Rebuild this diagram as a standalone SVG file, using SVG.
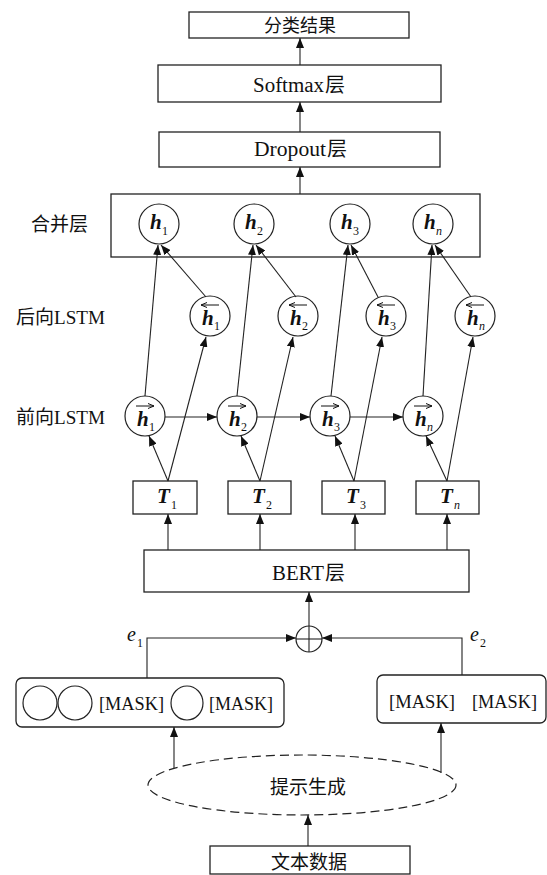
<svg xmlns="http://www.w3.org/2000/svg" width="547" height="875" viewBox="0 0 547 875">
  <defs>
    <marker id="ah" viewBox="0 0 10 8" refX="10" refY="4" markerWidth="10" markerHeight="8" orient="auto" markerUnits="userSpaceOnUse">
      <path d="M0,0 L10,4 L0,8 z" fill="#111"/>
    </marker>
    <marker id="acc" viewBox="0 0 6 6" refX="6" refY="3" markerWidth="6" markerHeight="6" orient="auto" markerUnits="userSpaceOnUse">
      <path d="M0,0.5 L6,3 L0,5.5" fill="none" stroke="#111" stroke-width="1"/>
    </marker>
  </defs>
  <style>
    .box { fill: #fff; stroke: #222; stroke-width: 1.3; }
    .node { fill: #fff; stroke: #222; stroke-width: 1.2; }
    .ln { fill: none; stroke: #222; stroke-width: 1.1; }
    .arr { fill: none; stroke: #222; stroke-width: 1.1; marker-end: url(#ah); }
    .acc { fill: none; stroke: #111; stroke-width: 1; marker-end: url(#acc); }
    text { fill: #111; }
    .c { text-anchor: middle; }
    .lat { font-family: "Liberation Serif", "Times New Roman", Tinos, "DejaVu Serif", serif; }
    .cjk { font-family: "Noto Sans CJK SC", "Noto Sans CJK JP", sans-serif; }
    .h { font-family: "Liberation Serif", "Times New Roman", "DejaVu Serif", serif; font-weight: bold; font-style: italic; font-size: 21px; }
    .sub { font-family: "Liberation Serif", "Times New Roman", "DejaVu Serif", serif; font-size: 12px; }
    .subi { font-family: "Liberation Serif", "Times New Roman", "DejaVu Serif", serif; font-style: italic; font-size: 12px; }
    .mask { font-family: "Liberation Serif", "Times New Roman", "DejaVu Serif", serif; font-size: 19px; }
  </style>

  <!-- output stack -->
  <g id="result">
    <rect class="box" x="189" y="12" width="220" height="26"/>
    <text class="cjk c" x="300" y="32" font-size="18">分类结果</text>
  </g>
  <g id="softmax">
    <rect class="box" x="158" y="65" width="283" height="37"/>
    <text class="lat" x="253" y="92" font-size="20" textLength="71" lengthAdjust="spacingAndGlyphs">Softmax</text>
    <text class="cjk" x="325" y="92" font-size="20">层</text>
  </g>
  <g id="dropout">
    <rect class="box" x="159" y="132" width="281" height="35"/>
    <text class="lat" x="254" y="156" font-size="20" textLength="72" lengthAdjust="spacingAndGlyphs">Dropout</text>
    <text class="cjk" x="327" y="156" font-size="20">层</text>
  </g>

  <!-- merge layer -->
  <g id="merge">
    <rect class="box" x="111" y="194" width="369" height="63"/>
    <text class="cjk" x="31" y="231" font-size="19">合并层</text>
  </g>
  <g id="m1">
    <circle class="node" cx="159" cy="224" r="20"/>
    <text class="h" x="150" y="229">h</text><text class="sub" x="162" y="235">1</text>
  </g>
  <g id="m2">
    <circle class="node" cx="254" cy="224" r="20"/>
    <text class="h" x="245" y="229">h</text><text class="sub" x="257" y="235">2</text>
  </g>
  <g id="m3">
    <circle class="node" cx="350" cy="224" r="20"/>
    <text class="h" x="341" y="229">h</text><text class="sub" x="353" y="235">3</text>
  </g>
  <g id="mn">
    <circle class="node" cx="433" cy="224" r="20"/>
    <text class="h" x="424" y="229">h</text><text class="subi" x="436" y="235">n</text>
  </g>

  <!-- backward LSTM -->
  <g id="bw-label">
    <text class="cjk" x="16" y="324" font-size="19">后向</text>
    <text class="lat" x="54" y="324" font-size="19" textLength="51" lengthAdjust="spacingAndGlyphs">LSTM</text>
  </g>
  <g id="b1">
    <circle class="node" cx="210" cy="316" r="20"/>
    <line class="acc" x1="219" y1="305" x2="201" y2="305"/>
    <text class="h" x="202" y="325">h</text><text class="sub" x="214" y="330">1</text>
  </g>
  <g id="b2">
    <circle class="node" cx="298" cy="316" r="20"/>
    <line class="acc" x1="307" y1="305" x2="289" y2="305"/>
    <text class="h" x="290" y="325">h</text><text class="sub" x="302" y="330">2</text>
  </g>
  <g id="b3">
    <circle class="node" cx="386" cy="316" r="20"/>
    <line class="acc" x1="395" y1="305" x2="377" y2="305"/>
    <text class="h" x="378" y="325">h</text><text class="sub" x="390" y="330">3</text>
  </g>
  <g id="bn">
    <circle class="node" cx="475" cy="316" r="20"/>
    <line class="acc" x1="484" y1="305" x2="466" y2="305"/>
    <text class="h" x="467" y="325">h</text><text class="subi" x="479" y="330">n</text>
  </g>

  <!-- forward LSTM -->
  <g id="fw-label">
    <text class="cjk" x="16" y="424" font-size="19">前向</text>
    <text class="lat" x="54" y="424" font-size="19" textLength="51" lengthAdjust="spacingAndGlyphs">LSTM</text>
  </g>
  <g id="f1">
    <circle class="node" cx="145" cy="416" r="20"/>
    <line class="acc" x1="136" y1="406" x2="154" y2="406"/>
    <text class="h" x="137" y="426">h</text><text class="sub" x="149" y="431">1</text>
  </g>
  <g id="f2">
    <circle class="node" cx="237" cy="416" r="20"/>
    <line class="acc" x1="228" y1="406" x2="246" y2="406"/>
    <text class="h" x="229" y="426">h</text><text class="sub" x="241" y="431">2</text>
  </g>
  <g id="f3">
    <circle class="node" cx="330" cy="416" r="20"/>
    <line class="acc" x1="321" y1="406" x2="339" y2="406"/>
    <text class="h" x="322" y="426">h</text><text class="sub" x="334" y="431">3</text>
  </g>
  <g id="fn">
    <circle class="node" cx="423" cy="416" r="20"/>
    <line class="acc" x1="414" y1="406" x2="432" y2="406"/>
    <text class="h" x="415" y="426">h</text><text class="subi" x="427" y="431">n</text>
  </g>

  <!-- token vectors -->
  <g id="t1">
    <rect class="box" x="133" y="481" width="64" height="33"/>
    <text class="h" x="157" y="503" font-size="20">T</text><text class="sub" x="171" y="509">1</text>
  </g>
  <g id="t2">
    <rect class="box" x="228" y="481" width="63" height="33"/>
    <text class="h" x="252" y="503" font-size="20">T</text><text class="sub" x="266" y="509">2</text>
  </g>
  <g id="t3">
    <rect class="box" x="322" y="481" width="63" height="33"/>
    <text class="h" x="346" y="503" font-size="20">T</text><text class="sub" x="360" y="509">3</text>
  </g>
  <g id="tn">
    <rect class="box" x="416" y="481" width="63" height="33"/>
    <text class="h" x="440" y="503" font-size="20">T</text><text class="subi" x="454" y="509">n</text>
  </g>

  <!-- BERT -->
  <g id="bert">
    <rect class="box" x="144" y="550" width="325" height="42"/>
    <text class="lat" x="272" y="580" font-size="20" textLength="52" lengthAdjust="spacingAndGlyphs">BERT</text>
    <text class="cjk" x="325" y="580" font-size="20">层</text>
  </g>

  <!-- embedding sum -->
  <g id="sum">
    <circle class="node" cx="309" cy="639" r="13"/>
    <line class="ln" x1="309" y1="626" x2="309" y2="652"/>
    <line class="ln" x1="296" y1="639" x2="322" y2="639"/>
  </g>
  <g id="e1-label">
    <text class="lat" x="127" y="641" font-size="20" font-style="italic">e</text>
    <text class="sub" x="137" y="647">1</text>
  </g>
  <g id="e2-label">
    <text class="lat" x="470" y="641" font-size="20" font-style="italic">e</text>
    <text class="sub" x="480" y="647">2</text>
  </g>

  <!-- prompt templates -->
  <g id="template1">
    <rect class="box" x="16" y="678" width="268" height="49" rx="6"/>
    <ellipse class="node" cx="40" cy="703" rx="17" ry="17"/>
    <ellipse class="node" cx="75" cy="703" rx="17" ry="17"/>
    <text class="mask" x="99" y="710" textLength="65" lengthAdjust="spacingAndGlyphs">[MASK]</text>
    <ellipse class="node" cx="187" cy="703" rx="16" ry="17"/>
    <text class="mask" x="209" y="710" textLength="64" lengthAdjust="spacingAndGlyphs">[MASK]</text>
  </g>
  <g id="template2">
    <rect class="box" x="377" y="675" width="169" height="48" rx="6"/>
    <text class="mask" x="389" y="708" textLength="66" lengthAdjust="spacingAndGlyphs">[MASK]</text>
    <text class="mask" x="472" y="708" textLength="65" lengthAdjust="spacingAndGlyphs">[MASK]</text>
  </g>

  <!-- prompt generation -->
  <g id="prompt">
    <ellipse cx="302" cy="785" rx="154" ry="30" fill="#fff" stroke="#222" stroke-width="1.2" stroke-dasharray="9,5"/>
    <text class="cjk c" x="308" y="794" font-size="19">提示生成</text>
  </g>

  <!-- input text -->
  <g id="text-data">
    <rect class="box" x="210" y="846" width="200" height="28"/>
    <text class="cjk c" x="309" y="869" font-size="19">文本数据</text>
  </g>

  <!-- connectors, drawn over the node fills so arrowheads stay visible -->
  <g id="connectors">
    <!-- top stack -->
    <line class="arr" x1="300" y1="65" x2="300" y2="38"/>
    <line class="arr" x1="300" y1="132" x2="300" y2="102"/>
    <line class="arr" x1="300" y1="194" x2="300" y2="167"/>
    <!-- forward states to merged states -->
    <line class="arr" x1="145" y1="396" x2="158" y2="245"/>
    <line class="arr" x1="237" y1="396" x2="253" y2="245"/>
    <line class="arr" x1="331" y1="396" x2="348" y2="245"/>
    <line class="arr" x1="423" y1="396" x2="432" y2="245"/>
    <!-- backward states to merged states -->
    <line class="arr" x1="206" y1="297" x2="161" y2="245"/>
    <line class="arr" x1="296" y1="297" x2="256" y2="245"/>
    <line class="arr" x1="378" y1="297" x2="351" y2="245"/>
    <line class="arr" x1="471" y1="297" x2="435" y2="245"/>
    <!-- token vectors to backward states -->
    <line class="arr" x1="168" y1="481" x2="206" y2="337"/>
    <line class="arr" x1="260" y1="481" x2="293" y2="337"/>
    <line class="arr" x1="354" y1="481" x2="382" y2="337"/>
    <line class="arr" x1="447" y1="481" x2="473" y2="337"/>
    <!-- token vectors to forward states -->
    <line class="arr" x1="168" y1="481" x2="149" y2="436"/>
    <line class="arr" x1="260" y1="481" x2="241" y2="436"/>
    <line class="arr" x1="354" y1="481" x2="335" y2="436"/>
    <line class="arr" x1="447" y1="481" x2="426" y2="436"/>
    <!-- forward recurrence -->
    <line class="arr" x1="165" y1="417" x2="217" y2="417"/>
    <line class="arr" x1="257" y1="417" x2="310" y2="417"/>
    <line class="arr" x1="350" y1="417" x2="403" y2="417"/>
    <!-- BERT to token vectors -->
    <line class="arr" x1="168" y1="550" x2="168" y2="514"/>
    <line class="arr" x1="260" y1="550" x2="260" y2="514"/>
    <line class="arr" x1="355" y1="550" x2="355" y2="514"/>
    <line class="arr" x1="447" y1="550" x2="447" y2="514"/>
    <!-- sum to BERT -->
    <line class="arr" x1="309" y1="626" x2="309" y2="592"/>
    <!-- prompt embeddings into the sum -->
    <path class="arr" d="M147,678 V638 H296"/>
    <path class="arr" d="M462,675 V638 H322"/>
    <!-- prompt generation to templates -->
    <line class="arr" x1="174" y1="768" x2="174" y2="727"/>
    <line class="arr" x1="441" y1="773" x2="441" y2="723"/>
    <!-- text data to prompt generation -->
    <line class="arr" x1="308" y1="846" x2="308" y2="815"/>
  </g>
</svg>
